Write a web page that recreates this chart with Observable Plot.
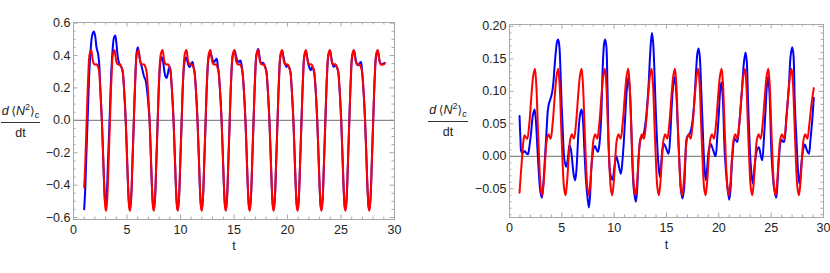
<!DOCTYPE html>
<html><head><meta charset="utf-8">
<script src="https://cdn.jsdelivr.net/npm/d3@7"></script>
<script src="https://cdn.jsdelivr.net/npm/@observablehq/plot@0.6"></script>
<style>
body{margin:0;background:#fff;}
#wrap{position:relative;width:830px;height:273px;font-family:"Liberation Sans",Arial,sans-serif;background:#fff;overflow:hidden;}
.ylab{position:absolute;text-align:center;font-size:12.5px;color:#222;line-height:14px;}
.num{display:block;padding-bottom:3px;border-bottom:1px solid #333;white-space:nowrap;}
.den{display:block;padding-top:3px;}
.ylab sup{font-size:9px;vertical-align:0;position:relative;top:-5px;}
.ylab sub{font-size:9px;vertical-align:0;position:relative;top:3px;}
.ab{font-family:"DejaVu Sans";font-size:12px;}
</style></head><body><div id="wrap"></div>
<script>
const xMajor = [0,5,10,15,20,25,30];
const xMinor = [1,2,3,4,6,7,8,9,11,12,13,14,16,17,18,19,21,22,23,24,26,27,28,29];
const leftYMajor = [-0.6,-0.4,-0.2,0,0.2,0.4,0.6];
const leftYMinor = [-0.55,-0.5,-0.45,-0.35,-0.3,-0.25,-0.15,-0.1,-0.05,0.05,0.1,0.15,0.25,0.3,0.35,0.45,0.5,0.55];
const rightYMajor = [-0.05,0,0.05,0.1,0.15,0.2];
const rightYMinor = [-0.09,-0.08,-0.07,-0.06,-0.04,-0.03,-0.02,-0.01,0.01,0.02,0.03,0.04,0.06,0.07,0.08,0.09,0.11,0.12,0.13,0.14,0.16,0.17,0.18,0.19];

const leftBlue = [
[1.00,-0.548],[1.10,-0.42],[1.22,-0.18],[1.35,0.06],[1.48,0.30],[1.62,0.45],[1.76,0.53],[1.90,0.548],[2.03,0.52],[2.15,0.45],[2.30,0.41],[2.40,0.35],[2.48,0.24],[2.56,0.12],[2.65,0.0],[2.77,-0.22],[2.88,-0.42],[2.96,-0.50],[3.02,-0.507],
[3.10,-0.46],[3.22,-0.26],[3.37,0.0],[3.52,0.28],[3.66,0.44],[3.78,0.51],[3.90,0.524],[4.02,0.47],[4.14,0.39],[4.25,0.355],[4.36,0.34],[4.50,0.325],[4.60,0.30],[4.70,0.22],[4.79,0.12],[4.88,0.0],[5.00,-0.22],[5.12,-0.44],[5.21,-0.53],[5.28,-0.55],
[5.38,-0.49],[5.50,-0.28],[5.64,0.0],[5.78,0.27],[5.90,0.42],[6.01,0.452],[6.13,0.41],[6.25,0.36],[6.38,0.33],[6.52,0.29],[6.62,0.265],[6.70,0.256],[6.79,0.23],[6.90,0.17],[7.01,0.09],[7.11,0.0],[7.23,-0.22],[7.35,-0.44],[7.44,-0.53],[7.51,-0.55],
[7.61,-0.49],[7.73,-0.28],[7.87,0.0],[8.01,0.26],[8.14,0.37],[8.26,0.39],[8.38,0.36],[8.50,0.30],[8.60,0.27],[8.70,0.262],[8.82,0.29],[8.92,0.32],[9.00,0.33],[9.08,0.30],[9.17,0.22],[9.26,0.12],[9.35,0.0],[9.47,-0.22],[9.59,-0.44],[9.68,-0.53],[9.75,-0.55],
[9.85,-0.49],[9.97,-0.28],[10.11,0.0],[10.25,0.26],[10.40,0.37],[10.53,0.39],[10.66,0.36],[10.78,0.335],[10.88,0.33],[11.00,0.35],[11.12,0.36],[11.22,0.33],[11.31,0.30],[11.41,0.22],[11.50,0.12],[11.59,0.0],[11.71,-0.22],[11.83,-0.44],[11.92,-0.53],[11.99,-0.55],
[12.09,-0.49],[12.21,-0.28],[12.35,0.0],[12.49,0.26],[12.64,0.39],[12.81,0.415],[12.93,0.39],[13.05,0.365],[13.13,0.36],[13.25,0.37],[13.38,0.38],[13.48,0.34],[13.56,0.30],[13.66,0.22],[13.75,0.12],[13.84,0.0],[13.96,-0.22],[14.08,-0.44],[14.17,-0.53],[14.24,-0.55],
[14.34,-0.49],[14.46,-0.28],[14.60,0.0],[14.74,0.26],[14.89,0.40],[15.06,0.43],[15.18,0.40],[15.30,0.37],[15.45,0.36],[15.60,0.37],[15.70,0.345],[15.79,0.30],[15.89,0.22],[15.98,0.12],[16.07,0.0],[16.19,-0.22],[16.31,-0.44],[16.40,-0.53],[16.47,-0.55],
[16.57,-0.49],[16.69,-0.28],[16.83,0.0],[16.97,0.26],[17.11,0.41],[17.27,0.44],[17.39,0.39],[17.47,0.36],[17.58,0.35],[17.70,0.355],[17.82,0.345],[17.93,0.325],[18.03,0.30],[18.13,0.22],[18.22,0.12],[18.31,0.0],[18.43,-0.22],[18.55,-0.44],[18.64,-0.53],[18.71,-0.55],
[18.81,-0.49],[18.93,-0.28],[19.07,0.0],[19.21,0.26],[19.35,0.40],[19.51,0.43],[19.63,0.39],[19.76,0.35],[19.90,0.33],[20.04,0.34],[20.16,0.325],[20.27,0.30],[20.37,0.22],[20.46,0.12],[20.55,0.0],[20.67,-0.22],[20.79,-0.44],[20.88,-0.53],[20.95,-0.55],
[21.05,-0.49],[21.17,-0.28],[21.31,0.0],[21.45,0.26],[21.59,0.40],[21.74,0.42],[21.86,0.38],[21.98,0.34],[22.10,0.315],[22.18,0.31],[22.30,0.33],[22.40,0.32],[22.50,0.29],[22.60,0.22],[22.69,0.12],[22.78,0.0],[22.90,-0.22],[23.02,-0.44],[23.11,-0.53],[23.18,-0.55],
[23.28,-0.49],[23.40,-0.28],[23.54,0.0],[23.68,0.26],[23.82,0.40],[23.97,0.43],[24.09,0.39],[24.20,0.35],[24.33,0.33],[24.48,0.345],[24.63,0.325],[24.74,0.30],[24.84,0.22],[24.93,0.12],[25.02,0.0],[25.14,-0.22],[25.26,-0.44],[25.35,-0.53],[25.42,-0.55],
[25.52,-0.49],[25.64,-0.28],[25.78,0.0],[25.92,0.26],[26.06,0.40],[26.22,0.43],[26.34,0.39],[26.45,0.355],[26.57,0.34],[26.72,0.35],[26.86,0.36],[26.97,0.30],[27.07,0.22],[27.16,0.12],[27.25,0.0],[27.37,-0.22],[27.49,-0.44],[27.58,-0.53],[27.65,-0.55],
[27.75,-0.49],[27.87,-0.28],[28.01,0.0],[28.15,0.26],[28.29,0.40],[28.44,0.43],[28.56,0.385],[28.63,0.36],[28.75,0.345],[28.95,0.35],[29.08,0.355]
];

const leftRed = [
[1.00,-0.414],[1.09,-0.28],[1.23,0.0],[1.37,0.26],[1.51,0.41],[1.65,0.435],[1.77,0.385],[1.84,0.36],[1.97,0.345],[2.17,0.345],[2.32,0.325],[2.40,0.30],[2.48,0.22],[2.56,0.12],[2.65,0.0],[2.77,-0.22],[2.89,-0.44],[2.98,-0.54],[3.05,-0.558],
[3.15,-0.49],[3.27,-0.28],[3.41,0.0],[3.55,0.26],[3.69,0.41],[3.83,0.435],[3.95,0.385],[4.02,0.36],[4.15,0.345],[4.35,0.345],[4.50,0.325],[4.60,0.30],[4.70,0.22],[4.79,0.12],[4.88,0.0],[5.00,-0.22],[5.12,-0.44],[5.21,-0.54],[5.28,-0.558],
[5.38,-0.49],[5.50,-0.28],[5.64,0.0],[5.78,0.26],[5.92,0.41],[6.07,0.435],[6.19,0.385],[6.26,0.36],[6.39,0.345],[6.59,0.345],[6.74,0.325],[6.83,0.30],[6.93,0.22],[7.02,0.12],[7.11,0.0],[7.23,-0.22],[7.35,-0.44],[7.44,-0.54],[7.51,-0.558],
[7.61,-0.49],[7.73,-0.28],[7.87,0.0],[8.01,0.26],[8.16,0.41],[8.32,0.435],[8.44,0.385],[8.51,0.36],[8.64,0.345],[8.84,0.345],[8.99,0.325],[9.07,0.30],[9.17,0.22],[9.26,0.12],[9.35,0.0],[9.47,-0.22],[9.59,-0.44],[9.68,-0.54],[9.75,-0.558],
[9.85,-0.49],[9.97,-0.28],[10.11,0.0],[10.25,0.26],[10.40,0.41],[10.55,0.435],[10.67,0.385],[10.74,0.36],[10.87,0.345],[11.07,0.345],[11.22,0.325],[11.31,0.30],[11.41,0.22],[11.50,0.12],[11.59,0.0],[11.71,-0.22],[11.83,-0.44],[11.92,-0.54],[11.99,-0.558],
[12.09,-0.49],[12.21,-0.28],[12.35,0.0],[12.49,0.26],[12.64,0.41],[12.79,0.435],[12.91,0.385],[12.98,0.36],[13.11,0.345],[13.31,0.345],[13.46,0.325],[13.56,0.30],[13.66,0.22],[13.75,0.12],[13.84,0.0],[13.96,-0.22],[14.08,-0.44],[14.17,-0.54],[14.24,-0.558],
[14.34,-0.49],[14.46,-0.28],[14.60,0.0],[14.74,0.26],[14.89,0.41],[15.04,0.435],[15.16,0.385],[15.23,0.36],[15.36,0.345],[15.56,0.345],[15.71,0.325],[15.79,0.30],[15.89,0.22],[15.98,0.12],[16.07,0.0],[16.19,-0.22],[16.31,-0.44],[16.40,-0.54],[16.47,-0.558],
[16.57,-0.49],[16.69,-0.28],[16.83,0.0],[16.97,0.26],[17.11,0.41],[17.26,0.435],[17.38,0.385],[17.45,0.36],[17.58,0.345],[17.78,0.345],[17.93,0.325],[18.03,0.30],[18.13,0.22],[18.22,0.12],[18.31,0.0],[18.43,-0.22],[18.55,-0.44],[18.64,-0.54],[18.71,-0.558],
[18.81,-0.49],[18.93,-0.28],[19.07,0.0],[19.21,0.26],[19.35,0.41],[19.49,0.435],[19.61,0.385],[19.68,0.36],[19.81,0.345],[20.01,0.345],[20.16,0.325],[20.27,0.30],[20.37,0.22],[20.46,0.12],[20.55,0.0],[20.67,-0.22],[20.79,-0.44],[20.88,-0.54],[20.95,-0.558],
[21.05,-0.49],[21.17,-0.28],[21.31,0.0],[21.45,0.26],[21.59,0.41],[21.72,0.435],[21.84,0.385],[21.91,0.36],[22.04,0.345],[22.24,0.345],[22.39,0.325],[22.50,0.30],[22.60,0.22],[22.69,0.12],[22.78,0.0],[22.90,-0.22],[23.02,-0.44],[23.11,-0.54],[23.18,-0.558],
[23.28,-0.49],[23.40,-0.28],[23.54,0.0],[23.68,0.26],[23.82,0.41],[23.96,0.435],[24.08,0.385],[24.15,0.36],[24.28,0.345],[24.48,0.345],[24.63,0.325],[24.74,0.30],[24.84,0.22],[24.93,0.12],[25.02,0.0],[25.14,-0.22],[25.26,-0.44],[25.35,-0.54],[25.42,-0.558],
[25.52,-0.49],[25.64,-0.28],[25.78,0.0],[25.92,0.26],[26.06,0.41],[26.20,0.435],[26.32,0.385],[26.39,0.36],[26.52,0.345],[26.72,0.345],[26.87,0.325],[26.97,0.30],[27.07,0.22],[27.16,0.12],[27.25,0.0],[27.37,-0.22],[27.49,-0.44],[27.58,-0.54],[27.65,-0.558],
[27.75,-0.49],[27.87,-0.28],[28.01,0.0],[28.15,0.26],[28.29,0.41],[28.43,0.435],[28.55,0.385],[28.62,0.36],[28.75,0.345],[28.95,0.345],[29.08,0.35]
];

const rightBlue = [
[0.96,0.062],[1.05,0.025],[1.12,0.008],[1.25,0.005],[1.43,0.008],[1.60,0.005],[1.75,0.003],[1.90,0.015],[2.07,0.037],[2.22,0.062],[2.39,0.072],[2.52,0.055],[2.66,0.014],[2.80,-0.025],[2.93,-0.052],[3.09,-0.064],
[3.22,-0.045],[3.34,-0.016],[3.47,0.02],[3.56,0.045],[3.66,0.070],[3.78,0.082],[3.89,0.087],[4.08,0.099],[4.20,0.115],[4.30,0.137],[4.45,0.165],[4.55,0.177],[4.65,0.18],[4.76,0.17],[4.87,0.132],[4.98,0.08],[5.10,0.035],[5.25,-0.006],[5.41,-0.016],
[5.57,-0.005],[5.73,0.017],[5.87,0.01],[6.02,-0.012],[6.15,-0.03],[6.27,-0.037],[6.40,-0.02],[6.50,0.01],[6.60,0.04],[6.75,0.065],[6.88,0.072],[7.00,0.06],[7.17,0.004],[7.30,-0.035],[7.40,-0.055],[7.58,-0.079],
[7.70,-0.06],[7.80,-0.022],[7.92,0.0],[8.03,0.012],[8.16,0.016],[8.30,0.011],[8.45,0.007],[8.60,0.02],[8.76,0.06],[8.92,0.142],[9.05,0.175],[9.14,0.18],[9.25,0.17],[9.36,0.106],[9.50,0.004],[9.64,-0.028],[9.84,-0.036],
[10.00,-0.02],[10.20,0.0],[10.38,-0.01],[10.64,-0.027],[10.80,-0.005],[10.95,0.03],[11.10,0.075],[11.23,0.107],[11.37,0.122],[11.50,0.10],[11.62,0.055],[11.75,-0.016],[11.90,-0.055],[12.07,-0.07],
[12.20,-0.05],[12.32,-0.006],[12.45,0.02],[12.55,0.027],[12.77,0.032],[13.02,0.055],[13.16,0.08],[13.28,0.107],[13.44,0.158],[13.60,0.19],[13.71,0.178],[13.82,0.143],[13.93,0.09],[14.04,0.045],[14.20,-0.006],[14.36,-0.032],
[14.50,-0.01],[14.63,0.012],[14.78,0.019],[14.95,0.013],[15.19,0.004],[15.35,0.03],[15.51,0.081],[15.65,0.11],[15.80,0.122],[15.93,0.10],[16.05,0.055],[16.27,-0.022],[16.40,-0.055],[16.53,-0.065],
[16.68,-0.05],[16.80,-0.006],[16.97,0.03],[17.23,0.035],[17.45,0.05],[17.64,0.081],[17.87,0.143],[17.96,0.16],[18.06,0.166],[18.17,0.155],[18.31,0.107],[18.53,0.014],[18.65,-0.022],[18.76,-0.037],
[18.90,-0.015],[19.05,0.01],[19.23,0.019],[19.45,0.01],[19.68,0.0],[19.85,0.03],[20.00,0.066],[20.12,0.1],[20.25,0.114],[20.38,0.09],[20.57,0.004],[20.79,-0.042],[20.99,-0.067],
[21.12,-0.05],[21.27,-0.006],[21.53,0.027],[21.75,0.022],[21.92,0.045],[22.08,0.075],[22.23,0.107],[22.40,0.145],[22.55,0.16],[22.66,0.148],[22.80,0.081],[23.02,-0.006],[23.14,-0.03],[23.25,-0.042],
[23.45,-0.01],[23.65,0.01],[23.82,0.014],[24.00,0.002],[24.14,-0.006],[24.30,0.025],[24.46,0.071],[24.60,0.11],[24.71,0.122],[24.85,0.095],[25.03,0.004],[25.25,-0.045],[25.48,-0.064],
[25.61,-0.04],[25.73,-0.006],[25.99,0.025],[26.21,0.022],[26.45,0.06],[26.69,0.107],[26.86,0.155],[27.01,0.168],[27.12,0.158],[27.26,0.081],[27.48,0.004],[27.60,-0.03],[27.71,-0.042],
[27.90,-0.01],[28.05,0.01],[28.22,0.018],[28.40,0.01],[28.60,0.004],[28.75,0.025],[28.92,0.055],[29.07,0.09]
];

const rightRed = [
[0.96,-0.056],[1.05,-0.035],[1.21,0.0],[1.32,0.022],[1.43,0.032],[1.55,0.030],[1.69,0.027],[1.88,0.048],[2.08,0.090],[2.26,0.123],[2.42,0.135],[2.55,0.113],[2.70,0.050],[2.85,-0.012],[2.99,-0.050],
[3.12,-0.060],[3.27,-0.040],[3.42,-0.002],[3.57,0.026],[3.73,0.034],[3.92,0.027],[4.12,0.050],[4.32,0.092],[4.50,0.124],[4.65,0.135],[4.78,0.113],[4.93,0.050],[5.08,-0.012],[5.22,-0.050],
[5.35,-0.060],[5.50,-0.040],[5.65,-0.002],[5.80,0.026],[5.96,0.034],[6.15,0.027],[6.35,0.050],[6.55,0.092],[6.73,0.124],[6.88,0.135],[7.01,0.113],[7.16,0.050],[7.31,-0.012],[7.45,-0.050],
[7.58,-0.060],[7.73,-0.040],[7.88,-0.002],[8.03,0.026],[8.19,0.034],[8.38,0.027],[8.58,0.050],[8.78,0.092],[8.96,0.124],[9.11,0.135],[9.24,0.113],[9.39,0.050],[9.54,-0.012],[9.68,-0.050],
[9.81,-0.060],[9.96,-0.040],[10.11,-0.002],[10.26,0.026],[10.42,0.034],[10.61,0.027],[10.81,0.050],[11.01,0.092],[11.19,0.124],[11.34,0.135],[11.47,0.113],[11.62,0.050],[11.77,-0.012],[11.91,-0.050],
[12.04,-0.060],[12.19,-0.040],[12.34,-0.002],[12.49,0.026],[12.65,0.034],[12.84,0.027],[13.04,0.050],[13.24,0.092],[13.42,0.124],[13.57,0.135],[13.70,0.113],[13.85,0.050],[14.00,-0.012],[14.14,-0.050],
[14.27,-0.060],[14.42,-0.040],[14.57,-0.002],[14.72,0.026],[14.88,0.034],[15.07,0.027],[15.27,0.050],[15.47,0.092],[15.65,0.124],[15.80,0.135],[15.93,0.113],[16.08,0.050],[16.23,-0.012],[16.37,-0.050],
[16.50,-0.060],[16.65,-0.040],[16.80,-0.002],[16.95,0.026],[17.11,0.034],[17.30,0.027],[17.50,0.050],[17.70,0.092],[17.88,0.124],[18.03,0.135],[18.16,0.113],[18.31,0.050],[18.46,-0.012],[18.60,-0.050],
[18.73,-0.060],[18.88,-0.040],[19.03,-0.002],[19.18,0.026],[19.34,0.034],[19.53,0.027],[19.73,0.050],[19.93,0.092],[20.11,0.124],[20.26,0.135],[20.39,0.113],[20.54,0.050],[20.69,-0.012],[20.83,-0.050],
[20.96,-0.060],[21.11,-0.040],[21.26,-0.002],[21.41,0.026],[21.57,0.034],[21.76,0.027],[21.96,0.050],[22.16,0.092],[22.34,0.124],[22.49,0.135],[22.62,0.113],[22.77,0.050],[22.92,-0.012],[23.06,-0.050],
[23.19,-0.060],[23.34,-0.040],[23.49,-0.002],[23.64,0.026],[23.80,0.034],[23.99,0.027],[24.19,0.050],[24.39,0.092],[24.57,0.124],[24.72,0.135],[24.85,0.113],[25.00,0.050],[25.15,-0.012],[25.29,-0.050],
[25.42,-0.060],[25.57,-0.040],[25.72,-0.002],[25.87,0.026],[26.03,0.034],[26.22,0.027],[26.42,0.050],[26.62,0.092],[26.80,0.124],[26.95,0.135],[27.08,0.113],[27.23,0.050],[27.38,-0.012],[27.52,-0.050],
[27.65,-0.060],[27.80,-0.040],[27.95,-0.002],[28.10,0.026],[28.26,0.034],[28.45,0.027],[28.65,0.050],[28.85,0.080],[29.07,0.105]
];

const FRAME = "#a8a8a8";
const TEXT = "#222";

function panel(o) {
  const {width, height, mt, mr, mb, ml, xDomain, yDomain, blue, red, yMajor, yMinor, yFmt, xPad, tDy} = o;
  const kx = (xDomain[1] - xDomain[0]) / (width - ml - mr);
  const ky = (yDomain[1] - yDomain[0]) / (height - mt - mb);
  const xt = (vals, len) => [
    Plot.ruleX(vals, {x: d => d, y1: yDomain[0], y2: yDomain[0] + len * ky, stroke: FRAME}),
    Plot.ruleX(vals, {x: d => d, y1: yDomain[1], y2: yDomain[1] - len * ky, stroke: FRAME})
  ];
  const yt = (vals, len) => [
    Plot.ruleY(vals, {y: d => d, x1: xDomain[0], x2: xDomain[0] + len * kx, stroke: FRAME}),
    Plot.ruleY(vals, {y: d => d, x1: xDomain[1], x2: xDomain[1] - len * kx, stroke: FRAME})
  ];
  return Plot.plot({
    width, height,
    marginTop: mt, marginRight: mr, marginBottom: mb, marginLeft: ml,
    x: {domain: xDomain},
    y: {domain: yDomain},
    style: {fontFamily: '"Liberation Sans", Arial, sans-serif', fontSize: "12.5px", color: TEXT, background: "transparent", overflow: "visible"},
    marks: [
      ...xt(xMajor, 4.5), ...xt(xMinor, 2.5), ...yt(yMajor, 4.5), ...yt(yMinor, 2.5),
      Plot.ruleY([0], {stroke: "#8a8a8a", strokeWidth: 1.2}),
      Plot.line(blue, {x: d => d[0], y: d => d[1], stroke: "#0000ff", strokeWidth: 2, curve: "catmull-rom", clip: true}),
      Plot.line(red, {x: d => d[0], y: d => d[1], stroke: "#ff0000", strokeWidth: 2, curve: "catmull-rom", clip: true}),
      Plot.frame({stroke: FRAME}),
      Plot.axisX(xMajor, {tickSize: 0, tickPadding: xPad, tickFormat: d => String(d), label: null}),
      Plot.axisY(yMajor, {tickSize: 0, tickPadding: 3, tickFormat: yFmt, label: null}),
      Plot.text(["t"], {frameAnchor: "bottom", dy: tDy, fill: TEXT})
    ]
  });
}

const wrap = document.getElementById("wrap");

const left = panel({
  width: 415, height: 273, mt: 22, mr: 21, mb: 54, ml: 73,
  xDomain: [0, 30], yDomain: [-0.612, 0.604],
  blue: leftBlue, red: leftRed,
  yMajor: leftYMajor, yMinor: leftYMinor, yFmt: d3.format(".1f"),
  xPad: 6, tDy: 30
});
left.style.position = "absolute"; left.style.left = "0px"; left.style.top = "0px";
wrap.appendChild(left);

const right = panel({
  width: 415, height: 273, mt: 24, mr: 7, mb: 56, ml: 94,
  xDomain: [0, 30], yDomain: [-0.0943, 0.203],
  blue: rightBlue, red: rightRed,
  yMajor: rightYMajor, yMinor: rightYMinor, yFmt: d3.format(".2f"),
  xPad: 6, tDy: 31
});
right.style.position = "absolute"; right.style.left = "415px"; right.style.top = "0px";
wrap.appendChild(right);

function ylabel(x, y, w) {
  const div = document.createElement("div");
  div.className = "ylab";
  div.style.left = x + "px"; div.style.top = y + "px"; div.style.width = w + "px";
  div.innerHTML = '<span class="num"><i>d</i>&thinsp;<span class="ab">⟨</span><i>N</i><sup>2</sup><span class="ab">⟩</span><sub><i>c</i></sub></span><span class="den">dt</span>';
  wrap.appendChild(div);
}
ylabel(1, 104, 39);
ylabel(428, 103, 40);
</script>
</body></html>
